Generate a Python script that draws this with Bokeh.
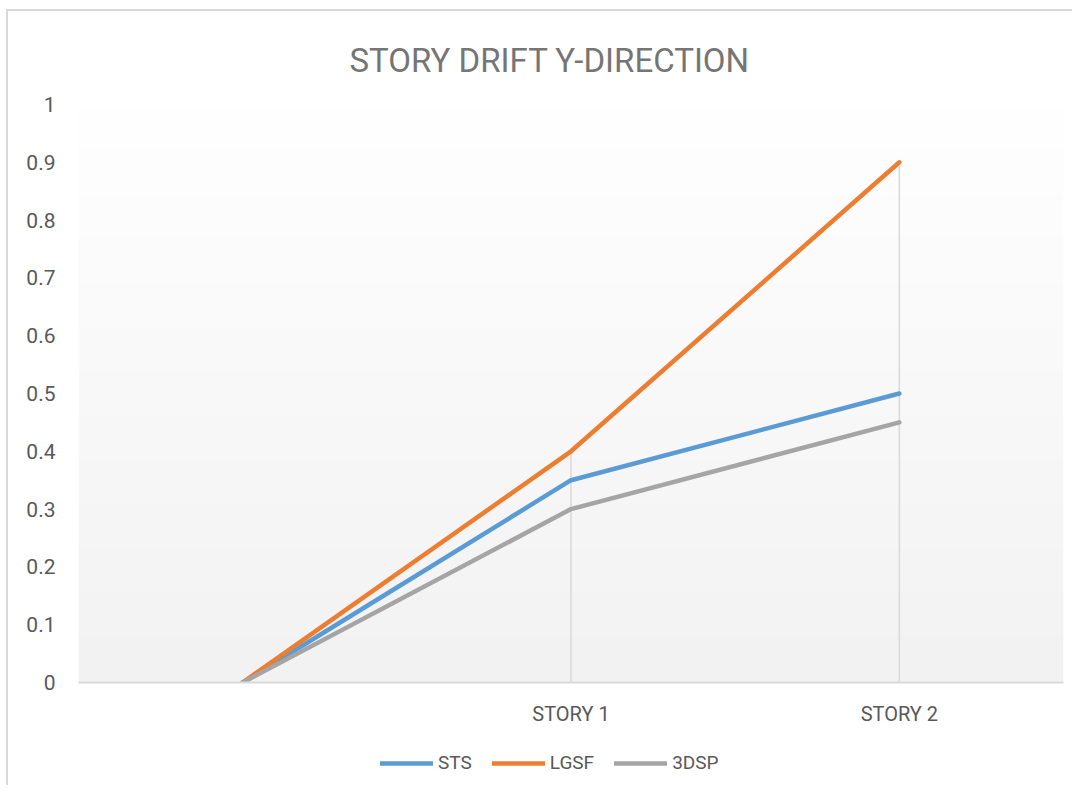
import numpy as np
from bokeh.plotting import figure
from bokeh.layouts import column
from bokeh.models import FixedTicker, Legend, LegendItem, Range1d
from bokeh.embed import file_html
from bokeh.resources import INLINE

# ---- data ----
categories = ["", "STORY 1", "STORY 2"]
series_names = ["STS", "LGSF", "3DSP"]
sts = [0.0, 0.35, 0.50]
lgsf = [0.0, 0.40, 0.90]
dsp3 = [0.0, 0.30, 0.45]
y_ticks = [0, 0.1, 0.2, 0.3, 0.4, 0.5, 0.6, 0.7, 0.8, 0.9, 1.0]
y_labels = ["0", "0.1", "0.2", "0.3", "0.4", "0.5", "0.6", "0.7", "0.8", "0.9", "1"]

colors = ["#5b9bd5", "#ed7d31", "#a5a5a5"]
FONT = "Roboto"
LABEL_COLOR = "#595959"
BORDER = "2px solid #d9d9d9"

xs = list(range(len(categories)))
series = [sts, lgsf, dsp3]

p = figure(frame_width=983, frame_height=576, output_backend="svg", toolbar_location=None,
           x_range=Range1d(-0.5, len(categories) - 0.5), y_range=Range1d(0, 1),
           min_border_left=70, min_border_right=11, min_border_top=93, min_border_bottom=60)

p.margin = (9, 0, 0, 6)
p.styles = {"border-left": BORDER, "border-top": BORDER}

p.title.text = "STORY DRIFT Y-DIRECTION"
p.title.align = "left"
p.title.offset = 271
p.title.text_font = FONT
p.title.text_font_size = "33px"
p.title.text_font_style = "normal"
p.title.text_color = "#757575"
p.title.standoff = 49

p.outline_line_color = None
p.background_fill_color = "white"
p.border_fill_color = "white"
p.grid.visible = False

# background gradient of the plot area (white at top -> light gray at bottom)
n = 200
shade = np.linspace(242, 255, n).astype(np.uint8)
img = np.zeros((n, 1), dtype=np.uint32)
view = img.view(dtype=np.uint8).reshape((n, 1, 4))
view[:, 0, 0] = shade
view[:, 0, 1] = shade
view[:, 0, 2] = shade
view[:, 0, 3] = 255
p.image_rgba(image=[img], x=-0.5, y=0, dw=len(categories), dh=1)

# drop lines
tops = [max(a, b, c) for a, b, c in zip(sts, lgsf, dsp3)]
p.segment(x0=xs, y0=[0] * len(xs), x1=xs, y1=tops, line_color="#d9d9d9", line_width=1.5)

for vals, col in zip(series, colors):
    p.line(xs, vals, line_color=col, line_width=4.5, line_join="round", line_cap="round")

# y axis
p.yaxis.ticker = FixedTicker(ticks=y_ticks)
p.yaxis.major_label_overrides = {t: l for t, l in zip(y_ticks, y_labels)}
p.yaxis.axis_line_color = None
p.yaxis.major_tick_line_color = None
p.yaxis.minor_tick_line_color = None
p.yaxis.major_tick_in = 0
p.yaxis.major_tick_out = 0
p.yaxis.major_label_standoff = 23
p.yaxis.major_label_text_font = FONT
p.yaxis.major_label_text_font_size = "21px"
p.yaxis.major_label_text_color = LABEL_COLOR

# x axis
p.xaxis.ticker = FixedTicker(ticks=xs)
p.xaxis.major_label_overrides = {float(i): c for i, c in zip(xs, categories)}
p.xaxis.axis_line_color = "#d9d9d9"
p.xaxis.axis_line_width = 2
p.xaxis.major_tick_line_color = None
p.xaxis.minor_tick_line_color = None
p.xaxis.major_tick_in = 0
p.xaxis.major_tick_out = 0
p.xaxis.major_label_standoff = 19
p.xaxis.major_label_text_font = FONT
p.xaxis.major_label_text_font_size = "20px"
p.xaxis.major_label_text_color = LABEL_COLOR

# ---- legend strip below the chart (its lines lie outside its own view) ----
lf = figure(frame_width=983, frame_height=45, output_backend="svg", toolbar_location=None,
            x_range=Range1d(-0.5, len(categories) - 0.5), y_range=Range1d(2, 3),
            x_axis_location=None, y_axis_location=None,
            min_border_left=70, min_border_right=11, min_border_top=0, min_border_bottom=0)
lf.margin = (0, 0, 0, 6)
lf.styles = {"border-left": BORDER}
lf.outline_line_color = None
lf.grid.visible = False
lf.background_fill_color = "white"
lf.border_fill_color = "white"

items = []
for name, vals, col in zip(series_names, series, colors):
    r = lf.line(xs, vals, line_color=col, line_width=4.5, line_cap="round")
    items.append(LegendItem(label=name, renderers=[r]))

legend = Legend(items=items, orientation="horizontal", location=(302, 11),
                glyph_width=53, glyph_height=20, label_height=20, label_standoff=5, spacing=20,
                label_text_font=FONT, label_text_font_size="19px",
                label_text_color=LABEL_COLOR, border_line_color=None,
                background_fill_alpha=0, margin=0, padding=0)
lf.add_layout(legend)

layout = column(p, lf, spacing=0)
open("out.html", "w").write(file_html(layout, INLINE))
